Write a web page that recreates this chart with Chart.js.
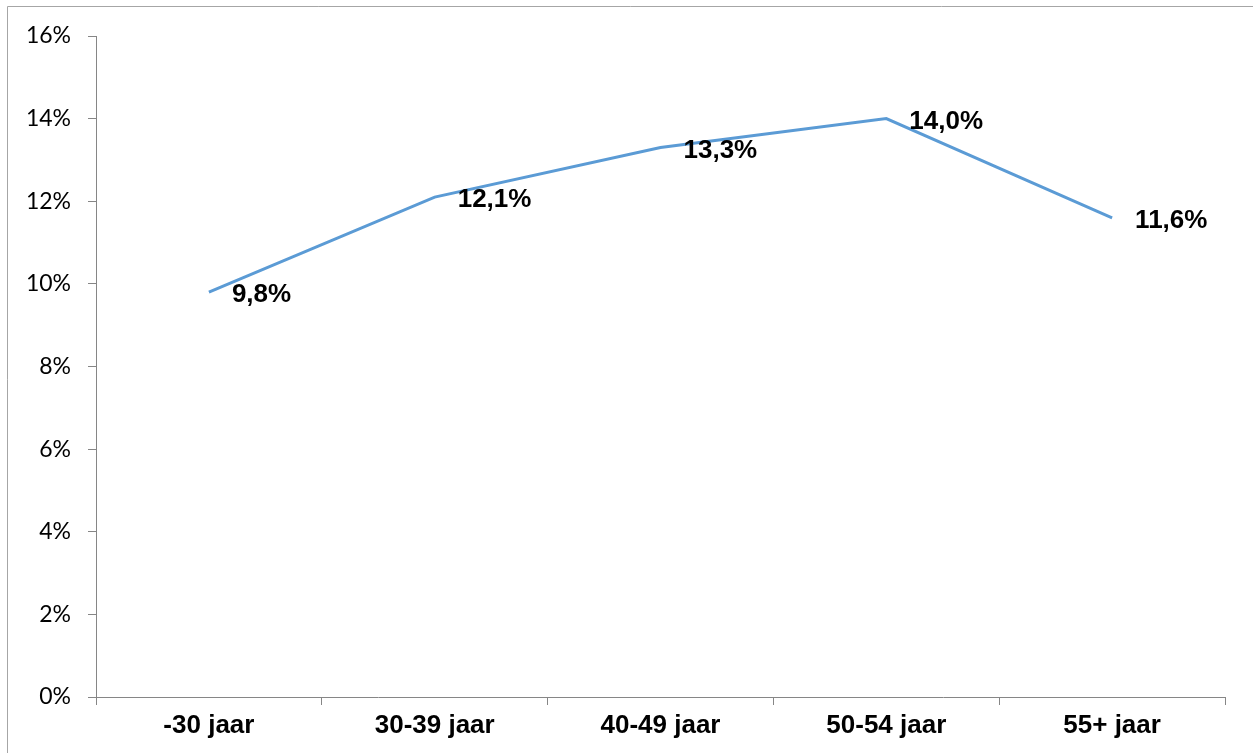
<!DOCTYPE html>
<html>
<head>
<meta charset="utf-8">
<script src="https://cdn.jsdelivr.net/npm/chart.js@4.4.1/dist/chart.umd.min.js"></script>
<style>
  html, body { margin: 0; padding: 0; background: #ffffff; }
  #wrap { position: relative; width: 1253px; height: 753px; }
  canvas { display: block; }
</style>
</head>
<body>
<div id="wrap"><canvas id="c" width="1253" height="753"></canvas></div>
<script>
// Age groups and their share (%)
const categories = ['-30 jaar', '30-39 jaar', '40-49 jaar', '50-54 jaar', '55+ jaar'];
const shares = [9.8, 12.1, 13.3, 14.0, 11.6];
const yTicks = [0, 2, 4, 6, 8, 10, 12, 14, 16];

const AXIS_GREY = '#868686';
const LINE_BLUE = '#5B9BD5';

// Format a percentage with a Dutch decimal comma
function fmtPct(v) {
  return v.toFixed(1).replace('.', ',') + '%';
}

// Thin frame along the top and left edges of the canvas
const framePlugin = {
  id: 'frame',
  beforeDraw(chart) {
    const ctx = chart.ctx;
    ctx.save();
    ctx.strokeStyle = '#a6a6a6';
    ctx.lineWidth = 1;
    ctx.beginPath();
    ctx.moveTo(7.5, chart.height);
    ctx.lineTo(7.5, 6.5);
    ctx.lineTo(chart.width, 6.5);
    ctx.stroke();
    ctx.restore();
  }
};

// Value labels placed to the right of each point
const valueLabels = {
  id: 'valueLabels',
  afterDatasetsDraw(chart) {
    const ctx = chart.ctx;
    const meta = chart.getDatasetMeta(0);
    ctx.save();
    ctx.font = 'bold 26px "Liberation Sans", Arial, sans-serif';
    ctx.fillStyle = '#000000';
    ctx.textAlign = 'left';
    ctx.textBaseline = 'middle';
    meta.data.forEach((pt, i) => {
      ctx.fillText(fmtPct(chart.data.datasets[0].data[i]), pt.x + 23, pt.y + 3);
    });
    ctx.restore();
  }
};

new Chart(document.getElementById('c'), {
  type: 'line',
  data: {
    labels: categories,
    datasets: [{
      data: shares,
      borderColor: LINE_BLUE,
      borderWidth: 3,
      pointRadius: 0,
      pointHoverRadius: 0,
      tension: 0,
      fill: false
    }]
  },
  options: {
    responsive: false,
    animation: false,
    events: [],
    layout: { padding: { left: 0, top: 36, right: 28, bottom: 0 } },
    plugins: {
      legend: { display: false },
      tooltip: { enabled: false }
    },
    scales: {
      x: {
        offset: true,
        grid: {
          offset: true,
          drawOnChartArea: false,
          drawTicks: true,
          tickLength: 8,
          color: AXIS_GREY
        },
        border: { color: AXIS_GREY, width: 1 },
        ticks: {
          color: '#000000',
          padding: 5,
          maxRotation: 0,
          font: { family: '"Liberation Sans", Arial, sans-serif', size: 26, weight: 'bold' }
        },
        afterFit(scale) { scale.height = 56; }
      },
      y: {
        min: 0,
        max: 16,
        afterBuildTicks(scale) {
          scale.ticks = yTicks.map(v => ({ value: v }));
        },
        grid: {
          drawOnChartArea: false,
          drawTicks: true,
          tickLength: 8,
          color: AXIS_GREY
        },
        border: { color: AXIS_GREY, width: 1 },
        ticks: {
          color: '#000000',
          padding: 17,
          callback: v => v + '%',
          font: { family: 'Lato, "Open Sans", sans-serif', size: 23 }
        },
        afterFit(scale) { scale.width = 96; }
      }
    }
  },
  plugins: [framePlugin, valueLabels]
});
</script>
</body>
</html>
